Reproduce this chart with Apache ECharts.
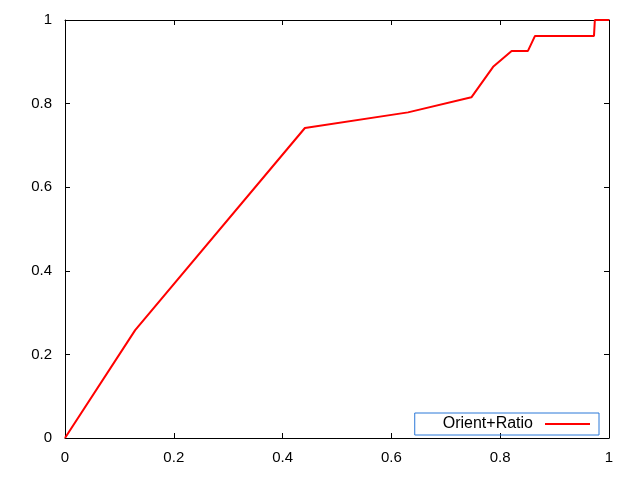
<!DOCTYPE html>
<html>
<head>
<meta charset="utf-8">
<script src="https://cdn.jsdelivr.net/npm/echarts@6/dist/echarts.min.js"></script>
<style>
html,body{margin:0;padding:0;background:#fff;}
#chart{width:640px;height:480px;}
</style>
</head>
<body>
<div id="chart"></div>
<script>
var seriesName = 'Orient+Ratio';
var xValues = [0, 0.129, 0.441, 0.6305, 0.747, 0.787, 0.821, 0.851, 0.864, 0.9724, 0.974, 1];
var yValues = [0, 0.258, 0.7416, 0.779, 0.815, 0.888, 0.926, 0.926, 0.962, 0.962, 1, 1];
var tickValues = [0, 0.2, 0.4, 0.6, 0.8, 1];

var points = xValues.map(function (x, i) { return [x, yValues[i]]; });
var font = 'Liberation Sans, Arial, sans-serif';

function axisBase(pos, showLabel) {
  return {
    type: 'value', position: pos, min: 0, max: 1, interval: 0.2,
    axisLine: { show: true, onZero: false, lineStyle: { color: '#000', width: 1 } },
    axisTick: { show: true, inside: true, length: 5, lineStyle: { color: '#000', width: 1 } },
    splitLine: { show: false },
    axisLabel: {
      show: showLabel, color: '#000', fontFamily: font, fontSize: 15,
      margin: (pos === 'bottom' || pos === 'top') ? 12 : 13,
      formatter: function (v) { return String(+v.toFixed(1)); }
    }
  };
}

var chart = echarts.init(document.getElementById('chart'));
chart.setOption({
  backgroundColor: '#fff',
  animation: false,
  grid: { left: 65, right: 31, top: 20, bottom: 42, containLabel: false },
  xAxis: [axisBase('bottom', true), axisBase('top', false)],
  yAxis: [axisBase('left', true), axisBase('right', false)],
  legend: {
    right: 41, bottom: 45,
    align: 'right',
    itemWidth: 45, itemHeight: 14,
    symbolKeepAspect: true,
    padding: [3, 9, 3, 28],
    borderColor: '#2a78d8', borderWidth: 1, borderRadius: 0,
    textStyle: { color: '#000', fontFamily: font, fontSize: 16, padding: [0, 7, 0, 0] },
    data: [{ name: seriesName, icon: 'path://M0,0h45v2h-45z', itemStyle: { color: '#ff0000' } }]
  },
  series: [{
    name: seriesName, type: 'line', data: points,
    xAxisIndex: 0, yAxisIndex: 0,
    symbol: 'none', showSymbol: false,
    lineStyle: { color: '#ff0000', width: 2 },
    itemStyle: { color: '#ff0000' }
  }]
});
</script>
</body>
</html>
